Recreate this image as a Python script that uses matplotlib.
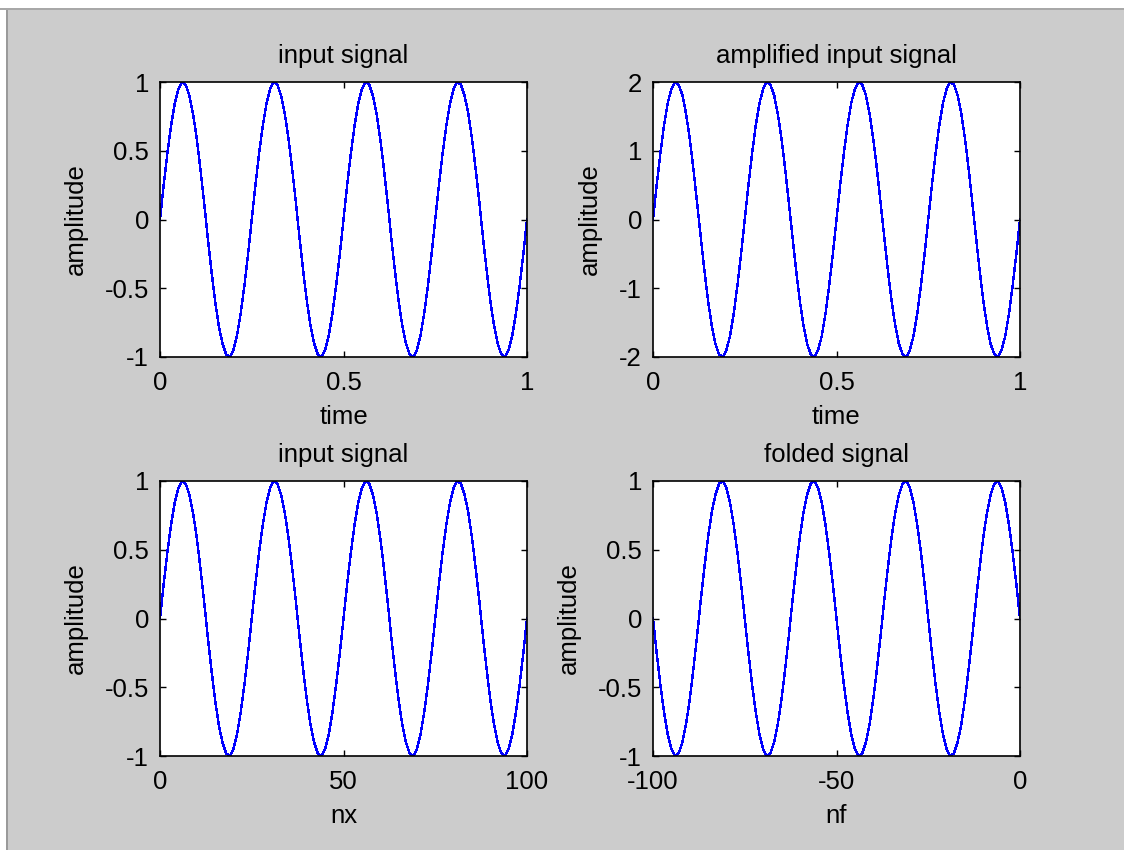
import numpy as np
import matplotlib
matplotlib.use("Agg")
import matplotlib.pyplot as plt
from matplotlib.patches import Rectangle

# sampled input signal, amplitude at n = 0..100
amplitude = [
    0.00, 0.25, 0.48, 0.68, 0.84, 0.95, 1.00, 0.98, 0.90, 0.77, 0.59, 0.37, 0.13,
    -0.13, -0.37, -0.59, -0.77, -0.90, -0.98, -1.00, -0.95, -0.84, -0.68, -0.48, -0.25,
    0.00, 0.25, 0.48, 0.68, 0.84, 0.95, 1.00, 0.98, 0.90, 0.77, 0.59, 0.37, 0.13,
    -0.13, -0.37, -0.59, -0.77, -0.90, -0.98, -1.00, -0.95, -0.84, -0.68, -0.48, -0.25,
    0.00, 0.25, 0.48, 0.68, 0.84, 0.95, 1.00, 0.98, 0.90, 0.77, 0.59, 0.37, 0.13,
    -0.13, -0.37, -0.59, -0.77, -0.90, -0.98, -1.00, -0.95, -0.84, -0.68, -0.48, -0.25,
    0.00, 0.25, 0.48, 0.68, 0.84, 0.95, 1.00, 0.98, 0.90, 0.77, 0.59, 0.37, 0.13,
    -0.13, -0.37, -0.59, -0.77, -0.90, -0.98, -1.00, -0.95, -0.84, -0.68, -0.48, -0.25,
    0.00,
]

# amplified signal (gain 2)
amplified = [
    0.00, 0.50, 0.96, 1.37, 1.69, 1.90, 2.00, 1.96, 1.81, 1.54, 1.18, 0.74, 0.25,
    -0.25, -0.74, -1.18, -1.54, -1.81, -1.96, -2.00, -1.90, -1.69, -1.37, -0.96, -0.50,
    0.00, 0.50, 0.96, 1.37, 1.69, 1.90, 2.00, 1.96, 1.81, 1.54, 1.18, 0.74, 0.25,
    -0.25, -0.74, -1.18, -1.54, -1.81, -1.96, -2.00, -1.90, -1.69, -1.37, -0.96, -0.50,
    0.00, 0.50, 0.96, 1.37, 1.69, 1.90, 2.00, 1.96, 1.81, 1.54, 1.18, 0.74, 0.25,
    -0.25, -0.74, -1.18, -1.54, -1.81, -1.96, -2.00, -1.90, -1.69, -1.37, -0.96, -0.50,
    0.00, 0.50, 0.96, 1.37, 1.69, 1.90, 2.00, 1.96, 1.81, 1.54, 1.18, 0.74, 0.25,
    -0.25, -0.74, -1.18, -1.54, -1.81, -1.96, -2.00, -1.90, -1.69, -1.37, -0.96, -0.50,
    0.00,
]

nx = np.arange(0, 101)
time = nx / 100.0
nf = -nx[::-1]
folded = amplitude[::-1]

plt.rcParams['font.family'] = ['Liberation Sans', 'DejaVu Sans']
FS = 18.5

W, H = 1124, 850
fig = plt.figure(figsize=(W / 100, H / 100), dpi=100, facecolor='#cccccc')

# window frame remains at top and left
fig.add_artist(Rectangle((0, 1 - 8 / H), 1, 8 / H, transform=fig.transFigure,
                         facecolor='white', edgecolor='none'))
fig.add_artist(Rectangle((0, 1 - 10 / H), 1, 2 / H, transform=fig.transFigure,
                         facecolor='#a8a8a8', edgecolor='none'))
fig.add_artist(Rectangle((0, 0), 6 / W, 1 - 10 / H, transform=fig.transFigure,
                         facecolor='white', edgecolor='none'))
fig.add_artist(Rectangle((6 / W, 0), 2 / W, 1 - 10 / H, transform=fig.transFigure,
                         facecolor='#9a9a9a', edgecolor='none'))


def panel(left, top, x, y, xlim, ylim, xticks, yticks, title, xlabel):
    ax = fig.add_axes([left / W, 1 - (top + 275) / H, 367 / W, 275 / H])
    ax.plot(x, y, color='blue', lw=1.0, antialiased=False)
    ax.set_xlim(xlim)
    ax.set_ylim(ylim)
    ax.set_xticks(xticks)
    ax.set_yticks(yticks)
    ax.set_xticklabels([f"{v:g}" for v in xticks])
    ax.set_yticklabels([f"{v:g}" for v in yticks])
    ax.tick_params(direction='in', length=4, width=1, top=True, right=True,
                   labelsize=FS, colors='black')
    ax.tick_params(axis='x', pad=10)
    ax.tick_params(axis='y', pad=8)
    for s in ax.spines.values():
        s.set_linewidth(1.2)
    ax.set_title(title, fontsize=FS, pad=14)
    ax.set_xlabel(xlabel, fontsize=FS, labelpad=7)
    ax.set_ylabel('amplitude', fontsize=FS, labelpad=12)
    return ax


panel(160, 82, time, amplitude, (0, 1), (-1, 1), [0, 0.5, 1],
      [-1, -0.5, 0, 0.5, 1], 'input signal', 'time')
panel(653, 82, time, amplified, (0, 1), (-2, 2), [0, 0.5, 1],
      [-2, -1, 0, 1, 2], 'amplified input signal', 'time')
panel(160, 481, nx, amplitude, (0, 100), (-1, 1), [0, 50, 100],
      [-1, -0.5, 0, 0.5, 1], 'input signal', 'nx')
panel(653, 481, nf, folded, (-100, 0), (-1, 1), [-100, -50, 0],
      [-1, -0.5, 0, 0.5, 1], 'folded signal', 'nf')

fig.savefig('out.png', dpi=100, facecolor=fig.get_facecolor())
